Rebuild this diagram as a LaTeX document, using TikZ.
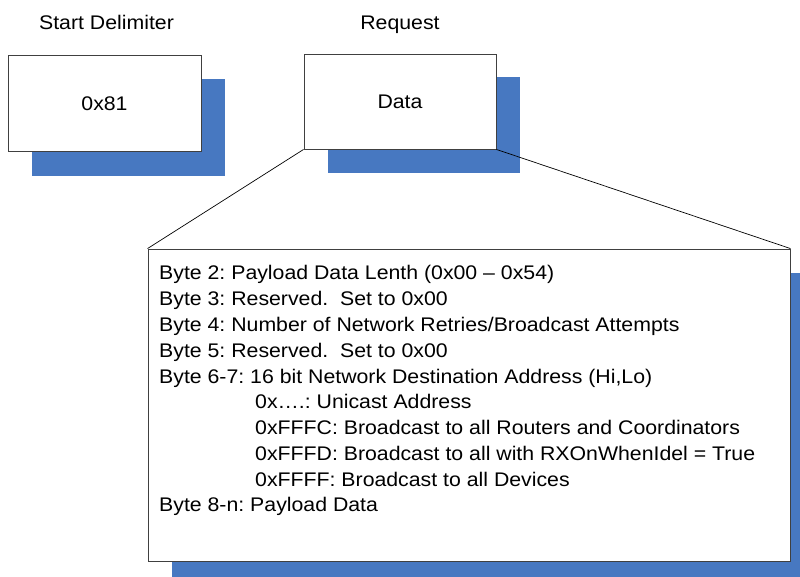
\documentclass[tikz,border=0pt]{standalone}
\usepackage{fontspec}
\setmainfont[FakeStretch=1.08]{Liberation Sans}
\definecolor{shadowblue}{RGB}{71,120,193}
\definecolor{edgegray}{RGB}{64,64,64}
\begin{document}
\frenchspacing
\begin{tikzpicture}[x=1pt,y=-1pt,
  shadowrect/.style={fill=shadowblue,draw=none},
  framebox/.style={draw=edgegray,line width=0.9pt,fill=white,inner sep=0pt,font=\fontsize{19.7}{24}\selectfont},
  titletext/.style={font=\fontsize{19.7}{24}\selectfont,anchor=base,inner sep=0pt},
  bodyline/.style={font=\fontsize{19.7}{24}\selectfont,anchor=base west,inner sep=0pt},
  link/.style={draw=black,line width=0.7pt}]
\useasboundingbox (0,0) rectangle (800,576);
\clip (0,0) rectangle (800,576);
% shadows
\fill[shadowrect] (32,79) rectangle (225,176);
\fill[shadowrect] (328,77) rectangle (520,173);
\fill[shadowrect] (172,273) rectangle (814,585);
% boxes
\node[framebox,minimum width=193pt,minimum height=96pt] (sd) at (104.5,103.5) {0x81};
\node[framebox,minimum width=192pt,minimum height=95pt] (req) at (400,101.5) {Data};
\node[framebox,minimum width=642pt,minimum height=312pt] (detail) at (469,405) {};
% titles
\node[titletext] (sdlabel) at (106.5,29.5) {Start Delimiter};
\node[titletext] (reqlabel) at (400,29.5) {Request};
% connectors
\draw[link] (req.south west) -- (detail.north west);
\draw[link] (req.south east) -- (detail.north east);
% body text
\node[bodyline] (l1) at (159,279) {Byte 2: Payload Data Lenth (0x00 – 0x54)};
\node[bodyline] (l2) at (159,305) {Byte 3: Reserved.\ \ Set to 0x00};
\node[bodyline] (l3) at (159,331) {Byte 4: Number of Network Retries/Broadcast Attempts};
\node[bodyline] (l4) at (159,357) {Byte 5: Reserved.\ \ Set to 0x00};
\node[bodyline] (l5) at (159,383) {Byte 6-7: 16 bit Network Destination Address (Hi,Lo)};
\node[bodyline] (l6) at (255,408) {0x….: Unicast Address};
\node[bodyline] (l7) at (255,434) {0xFFFC: Broadcast to all Routers and Coordinators};
\node[bodyline] (l8) at (255,460) {0xFFFD: Broadcast to all with RXOnWhenIdel = True};
\node[bodyline] (l9) at (255,486) {0xFFFF: Broadcast to all Devices};
\node[bodyline] (l10) at (159,511) {Byte 8-n: Payload Data};
\end{tikzpicture}
\end{document}
